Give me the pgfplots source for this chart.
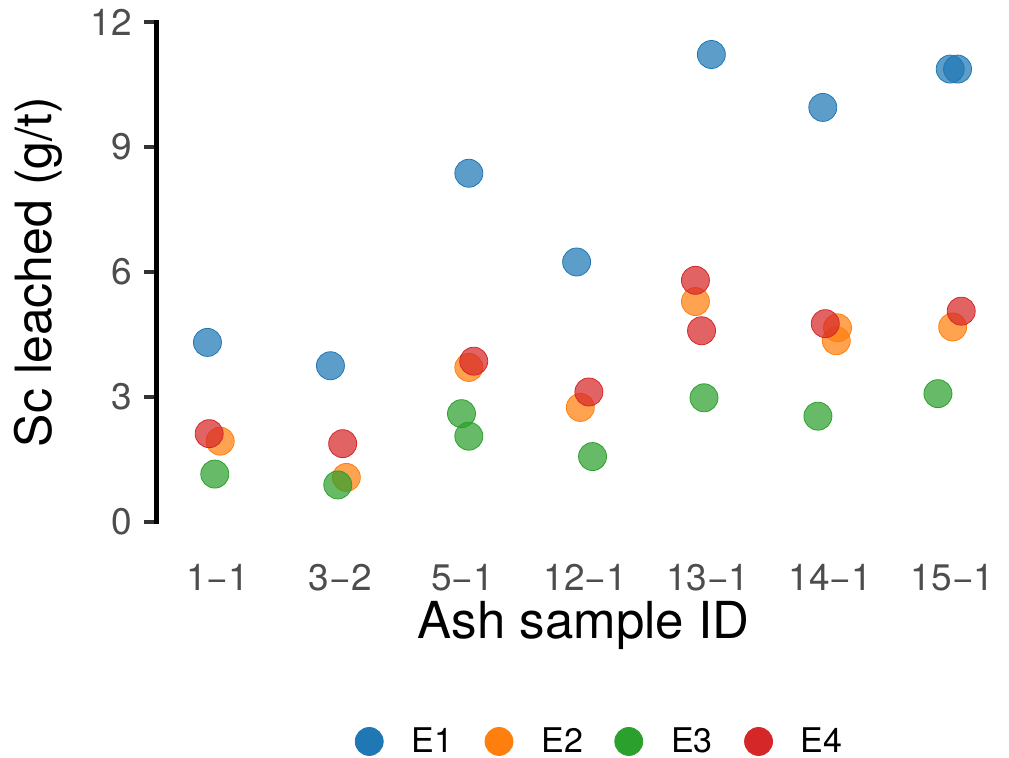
\documentclass[border=0pt]{standalone}
\usepackage{pgfplots}
\pgfplotsset{compat=1.18}
\usepackage{fontspec}
\setmainfont{TeX Gyre Heros}
\definecolor{c1}{HTML}{1F77B4}
\definecolor{c2}{HTML}{FF7F0E}
\definecolor{c3}{HTML}{2CA02C}
\definecolor{c4}{HTML}{D62728}
\definecolor{tickgray}{HTML}{4D4D4D}
\begin{document}
\begin{tikzpicture}
\path[use as bounding box] (-78.25pt,-118pt) rectangle (426.25pt,261pt);
\begin{axis}[
  at={(0pt,0pt)}, anchor=south west,
  scale only axis, width=426pt, height=250pt,
  xmin=0.5, xmax=7.456, ymin=0, ymax=12,
  clip=false,
  axis y line*=left, axis x line*=bottom,
  x axis line style={draw=none},
  y axis line style={line width=2.2pt, black, line cap=rect},
  xtick={1,2,3,4,5,6,7},
  xticklabels={1−1,3−2,5−1,12−1,13−1,14−1,15−1},
  xtick style={draw=none},
  ytick={0,3,6,9,12},
  tick align=outside,
  major tick length=6pt,
  ytick style={line width=2pt, black!80},
  /pgf/number format/assume math mode=true,
  yticklabel style={font=\fontsize{18.5}{18.5}\selectfont, text=tickgray, inner sep=0pt, xshift=-6pt},
  xticklabel style={font=\fontsize{18.5}{18.5}\selectfont, text=tickgray, inner sep=0pt, anchor=north, yshift=-15pt},
  legend columns=4,
  legend style={at={(axis description cs:0.519,-0.439)}, anchor=center, draw=none, fill=none,
    nodes={font=\fontsize{17}{17}\selectfont, inner sep=0pt},
    /tikz/every odd column/.append style={column sep=14pt},
    /tikz/every even column/.append style={column sep=15.7pt}},
  legend image code/.code={\fill[fill opacity=1] (7pt,0pt) circle (7pt);},
]
\addplot[only marks, color=c1, mark=*, mark size=7pt, mark options={draw=none, fill=c1, fill opacity=0.72}]
  coordinates {(0.916,4.31) (1.92,3.75) (3.05,8.37) (3.93,6.24) (5.03,11.22) (5.94,9.95) (6.98,10.87) (7.04,10.87)};
\addlegendentry{E1}
\addplot[only marks, color=c2, mark=*, mark size=7pt, mark options={draw=none, fill=c2, fill opacity=0.72}]
  coordinates {(1.02,1.94) (2.05,1.07) (3.05,3.71) (3.96,2.75) (4.90,5.29) (6.06,4.66) (6.05,4.35) (7.00,4.68)};
\addlegendentry{E2}
\addplot[only marks, color=c3, mark=*, mark size=7pt, mark options={draw=none, fill=c3, fill opacity=0.72}]
  coordinates {(0.976,1.15) (1.98,0.89) (2.99,2.60) (3.05,2.06) (4.06,1.57) (4.97,2.98) (5.90,2.54) (6.88,3.08)};
\addlegendentry{E3}
\addplot[only marks, color=c4, mark=*, mark size=7pt, mark options={draw=none, fill=c4, fill opacity=0.72}]
  coordinates {(0.93,2.12) (2.02,1.88) (3.09,3.86) (4.03,3.12) (4.90,5.80) (4.95,4.59) (5.96,4.76) (7.07,5.06)};
\addlegendentry{E4}
\end{axis}
\node[anchor=base, font=\fontsize{25.5}{25.5}\selectfont] at (213.5pt,-58.5pt) {Ash sample ID};
\node[anchor=base, rotate=90, font=\fontsize{25}{25}\selectfont] at (-52.5pt,125pt) {Sc leached (g/t)};
\end{tikzpicture}
\end{document}
